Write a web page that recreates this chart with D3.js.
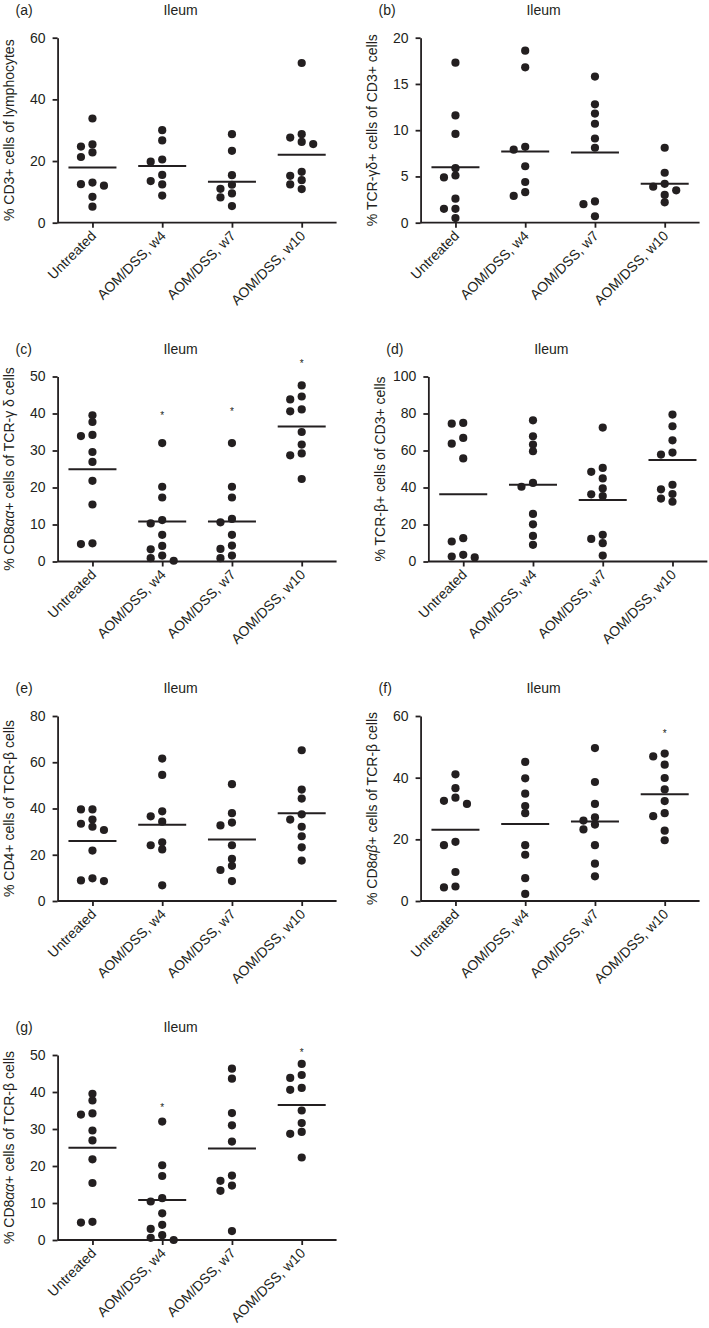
<!DOCTYPE html>
<html><head><meta charset="utf-8">
<script src="https://cdn.jsdelivr.net/npm/d3@7"></script>
<style>
body{margin:0;background:#fff}
svg{display:block}
text{font-family:"Liberation Sans", Arial, Helvetica, sans-serif; fill:#231f20}
</style>
</head><body>
<svg id="chart" width="709" height="1328"></svg>
<script>
const categories = ["Untreated", "AOM/DSS, w4", "AOM/DSS, w7", "AOM/DSS, w10"];

// (a) % CD3+ cells of lymphocytes
const a_ticks = [0, 20, 40, 60];
const a_untreated = [33.8, 25.4, 24.7, 22.8, 21.3, 13.0, 12.5, 12.0, 8.4, 5.2];
const a_w4 = [30.0, 26.7, 20.5, 19.8, 15.5, 13.5, 12.4, 8.8];
const a_w7 = [28.7, 23.3, 15.4, 12.3, 11.0, 9.5, 8.2, 5.4];
const a_w10 = [51.8, 28.7, 27.6, 26.2, 25.5, 16.5, 15.2, 13.8, 12.4, 10.9];
const a_means = [17.9, 18.4, 13.3, 22.0];
const a_stars = [null, null, null, null];

// (b) % TCR-γδ+ cells of CD3+ cells
const b_ticks = [0, 5, 10, 15, 20];
const b_untreated = [17.3, 11.6, 9.6, 5.9, 5.1, 4.9, 2.6, 1.5, 1.5, 0.5];
const b_w4 = [18.6, 16.8, 8.2, 7.9, 6.1, 4.4, 3.3, 2.9];
const b_w7 = [15.8, 12.8, 11.8, 10.7, 9.1, 8.1, 2.3, 2.0, 0.7];
const b_w10 = [8.1, 5.4, 4.2, 3.9, 3.5, 3.0, 2.2];
const b_means = [6.0, 7.7, 7.6, 4.2];
const b_stars = [null, null, null, null];

// (c) % CD8αα+ cells of TCR-γδ cells
const c_ticks = [0, 10, 20, 30, 40, 50];
const c_untreated = [39.5, 37.7, 34.2, 33.9, 29.6, 26.9, 21.8, 15.4, 4.9, 4.7];
const c_w4 = [32.0, 20.2, 17.3, 11.2, 10.3, 7.2, 4.2, 3.3, 1.6, 0.9, 0.2];
const c_w7 = [32.0, 20.2, 17.3, 11.5, 10.6, 7.2, 4.3, 3.4, 1.6, 0.9];
const c_w10 = [47.6, 44.6, 43.8, 41.1, 40.6, 35.0, 31.6, 29.2, 28.7, 22.3];
const c_means = [24.9, 10.8, 10.8, 36.5];
const c_stars = [null, 40, 41, 54];

// (d) % TCR-β+ cells of CD3+ cells
const d_ticks = [0, 20, 40, 60, 80, 100];
const d_untreated = [74.9, 74.5, 66.8, 63.7, 55.7, 12.6, 10.8, 3.6, 2.7, 2.2];
const d_w4 = [76.3, 67.7, 63.2, 59.6, 42.5, 40.4, 25.7, 20.1, 13.8, 9.0];
const d_w7 = [72.4, 50.6, 48.5, 44.9, 39.5, 36.3, 35.4, 14.4, 12.2, 9.9, 3.2];
const d_w10 = [79.4, 73.1, 65.5, 58.9, 57.8, 41.5, 39.0, 36.5, 34.0, 32.3];
const d_means = [36.4, 41.5, 33.2, 54.8];
const d_stars = [null, null, null, null];

// (e) % CD4+ cells of TCR-β cells
const e_ticks = [0, 20, 40, 60, 80];
const e_untreated = [39.6, 39.6, 35.2, 33.4, 32.1, 30.7, 21.8, 9.8, 8.9, 8.6];
const e_w4 = [61.6, 54.5, 38.8, 36.6, 34.3, 25.4, 24.1, 22.3, 6.8];
const e_w7 = [50.5, 38.0, 33.9, 32.7, 24.1, 18.2, 15.2, 13.4, 8.6];
const e_w10 = [65.2, 48.2, 44.3, 37.5, 35.2, 32.1, 28.0, 23.2, 17.5];
const e_means = [25.9, 33.0, 26.6, 37.9];
const e_stars = [null, null, null, null];

// (f) % CD8αβ+ cells of TCR-β cells
const f_ticks = [0, 20, 40, 60];
const f_untreated = [41.1, 36.6, 33.5, 32.5, 31.5, 19.2, 18.1, 9.4, 4.7, 4.4];
const f_w4 = [45.1, 39.8, 34.8, 30.8, 28.5, 18.1, 15.0, 7.4, 2.3];
const f_w7 = [49.6, 38.6, 31.5, 27.1, 26.1, 24.8, 23.2, 18.1, 12.1, 8.0];
const f_w10 = [47.8, 46.9, 44.2, 39.9, 36.2, 32.4, 28.5, 27.5, 22.8, 19.7];
const f_means = [23.1, 25.0, 25.8, 34.6];
const f_stars = [null, null, null, 54.9];

// (g) % CD8αα+ cells of TCR-β cells
const g_ticks = [0, 10, 20, 30, 40, 50];
const g_untreated = [39.5, 37.7, 34.2, 33.9, 29.6, 26.9, 21.8, 15.4, 4.9, 4.7];
const g_w4 = [32.0, 20.2, 17.3, 11.3, 10.4, 7.2, 4.1, 3.0, 1.3, 0.6, 0.0];
const g_w7 = [46.3, 43.6, 34.3, 31.0, 26.6, 17.4, 16.0, 14.7, 13.3, 2.4];
const g_w10 = [47.6, 44.6, 43.8, 41.1, 40.6, 35.0, 31.6, 29.2, 28.7, 22.3];
const g_means = [24.9, 10.8, 24.7, 36.5];
const g_stars = [null, 36.3, null, 51.1];

const panels = [
  {tag:"(a)", label:[["% CD3+ cells of lymphocytes"]], ticks:a_ticks, groups:[a_untreated,a_w4,a_w7,a_w10], means:a_means, stars:a_stars},
  {tag:"(b)", label:[["% TCR-γδ+ cells of CD3+ cells"]], ticks:b_ticks, groups:[b_untreated,b_w4,b_w7,b_w10], means:b_means, stars:b_stars},
  {tag:"(c)", label:[["% CD8"],["αα", true],["+ cells of TCR-γ δ cells"]], ticks:c_ticks, groups:[c_untreated,c_w4,c_w7,c_w10], means:c_means, stars:c_stars},
  {tag:"(d)", label:[["% TCR-β+ cells of CD3+ cells"]], ticks:d_ticks, groups:[d_untreated,d_w4,d_w7,d_w10], means:d_means, stars:d_stars},
  {tag:"(e)", label:[["% CD4+ cells of TCR-β cells"]], ticks:e_ticks, groups:[e_untreated,e_w4,e_w7,e_w10], means:e_means, stars:e_stars},
  {tag:"(f)", label:[["% CD8"],["αβ", true],["+ cells of TCR-β cells"]], ticks:f_ticks, groups:[f_untreated,f_w4,f_w7,f_w10], means:f_means, stars:f_stars},
  {tag:"(g)", label:[["% CD8"],["αα", true],["+ cells of TCR-β cells"]], ticks:g_ticks, groups:[g_untreated,g_w4,g_w7,g_w10], means:g_means, stars:g_stars}
];

const svg = d3.select("#chart");
const INK = "#231f20";
const colX = [0, 363];
const rowTop = [37.7, 376.5, 716, 1055];
const plotH = 185, plotW = 279;
const FS = 14, CAT_FS = 14, TITLE_FS = 14;
const R = 4.1, SLOT = 11.5, THR = 6.5, HALF = 24;

function measure(str, size) {
  const t = svg.append("text").style("font-size", size + "px").text(str);
  const w = t.node().getComputedTextLength();
  t.remove();
  return w;
}

function swarm(vals, y) {
  const pts = vals.map(v => ({v, py: y(v)})).sort((p, q) => p.py - q.py);
  const order = [0, -1, 1, -2, 2, -3, 3];
  const placed = [];
  pts.forEach(p => {
    for (const s of order) {
      if (!placed.some(q => q.slot === s && Math.abs(q.py - p.py) < THR)) { p.slot = s; break; }
    }
    placed.push(p);
  });
  return placed;
}

panels.forEach((p, i) => {
  const col = i % 2, row = Math.floor(i / 2);
  const top = rowTop[row];
  const yMax = d3.max(p.ticks);
  const tickW = d3.max(p.ticks, t => measure(String(t), FS));
  const axisX = colX[col] + 42 + tickW;
  const bottom = top + plotH;

  const y = d3.scaleLinear().domain([0, yMax]).range([bottom, top]);
  const x = d3.scalePoint().domain(categories).range([axisX, axisX + plotW]).padding(0.5);

  const g = svg.append("g");

  // title & tag
  g.append("text").attr("x", axisX - 42).attr("y", top - 23)
    .style("font-size", TITLE_FS + "px").text(p.tag);
  g.append("text").attr("x", axisX + 123).attr("y", top - 23)
    .attr("text-anchor", "middle").style("font-size", TITLE_FS + "px").text("Ileum");

  // y label
  const yl = g.append("text")
    .attr("transform", `translate(${axisX - 48},${top + plotH / 2}) rotate(-90)`)
    .attr("text-anchor", "middle").attr("dy", "0.35em")
    .style("font-size", FS + "px");
  p.label.forEach(([s, it]) => {
    const ts = yl.append("tspan").text(s);
    if (it) ts.style("font-style", "italic");
  });

  // y axis
  const ya = g.append("g").attr("transform", `translate(${axisX},0)`)
    .call(d3.axisLeft(y).tickValues(p.ticks).tickSize(5).tickSizeOuter(0).tickPadding(7).tickFormat(d3.format("d")));
  ya.selectAll("path,line").attr("stroke", INK).attr("stroke-width", 1.8);
  ya.selectAll("text").style("font-size", FS + "px").style("font-family", null).attr("fill", INK);

  // x axis
  const xa = g.append("g").attr("transform", `translate(0,${bottom})`)
    .call(d3.axisBottom(x).tickSize(5).tickSizeOuter(0));
  xa.selectAll("path,line").attr("stroke", INK).attr("stroke-width", 1.8);
  xa.selectAll("text")
    .attr("text-anchor", "end")
    .attr("y", 0).attr("dy", 0)
    .attr("transform", `translate(4,14) rotate(-45)`)
    .style("font-size", CAT_FS + "px").style("font-family", null).attr("fill", INK);
  xa.select(".domain").attr("d", `M${axisX},0H${axisX + plotW}`);

  // dots
  p.groups.forEach((vals, gi) => {
    const cx = x(categories[gi]);
    const pts = swarm(vals, y);
    g.append("g").selectAll("circle").data(pts).join("circle")
      .attr("cx", d => cx + d.slot * SLOT)
      .attr("cy", d => d.py)
      .attr("r", R).attr("fill", INK);
    g.append("line")
      .attr("x1", cx - HALF).attr("x2", cx + HALF)
      .attr("y1", y(p.means[gi])).attr("y2", y(p.means[gi]))
      .attr("stroke", INK).attr("stroke-width", 2);
    if (p.stars[gi] != null) {
      g.append("text").attr("x", cx).attr("y", y(p.stars[gi]) + 5.5)
        .attr("text-anchor", "middle").style("font-size", "10px").text("*");
    }
  });
});
</script>
</body></html>
